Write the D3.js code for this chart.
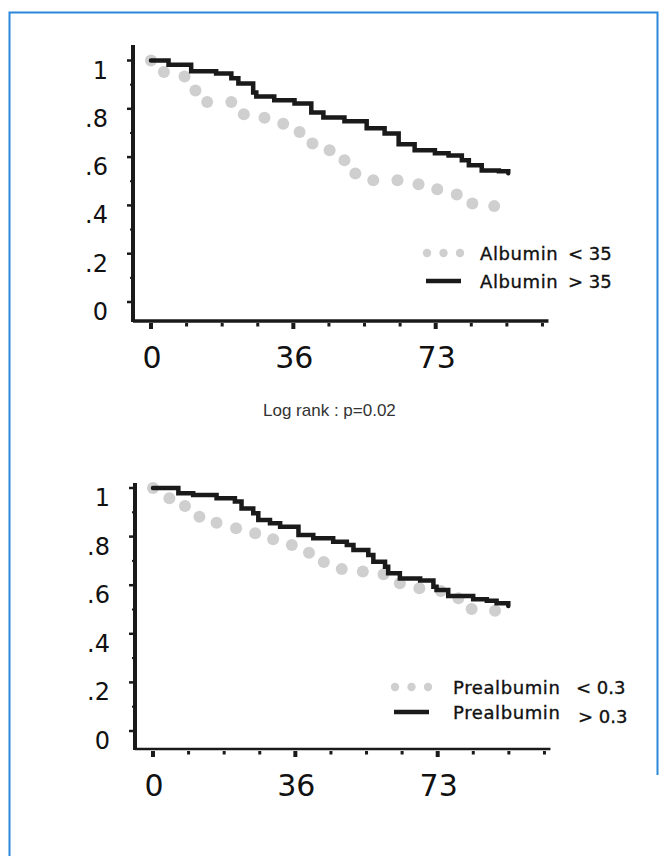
<!DOCTYPE html>
<html>
<head>
<meta charset="utf-8">
<script src="https://cdn.jsdelivr.net/npm/d3@7"></script>
<style>
body { margin: 0; background: #fff; }
svg { display: block; }
</style>
</head>
<body>
<div id="container"></div>
<script>
// survival curves (time, survival)
var albLowT = [0, 3.3, 8.6, 11.4, 14.4, 20.6, 23.8, 29.1, 33.9, 38.1, 41.4, 45.8, 49.6, 52.4, 57, 63.2, 68.6, 73.4, 78.4, 82.4, 88];
var albLowS = [1, 0.952, 0.934, 0.876, 0.828, 0.828, 0.777, 0.763, 0.738, 0.704, 0.656, 0.628, 0.587, 0.532, 0.504, 0.504, 0.488, 0.467, 0.445, 0.408, 0.397];

var albHighT = [0, 4.5, 10.3, 16.7, 20.6, 22.4, 26.2, 27, 31.6, 36.8, 41.1, 44.2, 49.6, 55.3, 59.9, 63.5, 67.6, 72.8, 76.3, 79.7, 81.5, 84.8, 89.2, 91.6];
var albHighS = [1, 0.982, 0.956, 0.946, 0.926, 0.905, 0.868, 0.851, 0.835, 0.822, 0.785, 0.764, 0.748, 0.719, 0.698, 0.653, 0.628, 0.616, 0.607, 0.587, 0.566, 0.545, 0.541, 0.533];

var preLowT = [0, 4.2, 8.2, 11.9, 16.3, 21.3, 26.2, 30.8, 35.6, 40, 43.8, 48.4, 53.8, 59.1, 63.3, 68.3, 73.8, 78.3, 81.7, 87.7];
var preLowS = [1, 0.958, 0.926, 0.882, 0.857, 0.834, 0.814, 0.789, 0.765, 0.734, 0.695, 0.667, 0.656, 0.645, 0.608, 0.587, 0.576, 0.546, 0.502, 0.495];

var preHighT = [0, 6.5, 10.3, 16.3, 21, 22.7, 25.7, 27, 30, 32.6, 37.3, 41.1, 46.2, 49.7, 51.4, 55.2, 56.5, 59.5, 60.3, 63.3, 68.5, 71.9, 72.7, 75.7, 82.1, 85.6, 88.1, 91.1];
var preHighS = [1, 0.978, 0.971, 0.958, 0.944, 0.916, 0.896, 0.868, 0.855, 0.841, 0.807, 0.793, 0.779, 0.765, 0.745, 0.724, 0.697, 0.676, 0.649, 0.628, 0.619, 0.594, 0.580, 0.556, 0.542, 0.536, 0.526, 0.514];

var yTickVals = [0, 0.2, 0.4, 0.6, 0.8, 1];
var yTickLabels = ["0", ".2", ".4", ".6", ".8", "1"];
var yMinorVals = [0.1, 0.3, 0.5, 0.7, 0.9];
var xTickVals = d3.range(12).map(function(i){ return i * 73 / 8; });
var xTickLabels = {0: "0", 4: "36", 8: "73"};

var width = 667, height = 856;
var dark = "#1a1a1a", grey = "#cfcfcf";

var svg = d3.select("#container")
            .append("svg")
            .attr("width", width)
            .attr("height", height);

// blue frame
svg.append("path")
   .attr("d", "M9.5,856 V12.5 H657.5 V775")
   .attr("fill", "none")
   .attr("stroke", "#2b87d9")
   .attr("stroke-width", 2);

function zip(a, b){ return a.map(function(d, i){ return [d, b[i]]; }); }

function panel(p){
  var x = d3.scaleLinear().domain([0, 73]).range([p.x0, p.x0 + 284.7]);
  var y = d3.scaleLinear().domain([0, 1]).range([p.yZero, p.yOne]);
  var g = svg.append("g");

  // axes
  g.append("line")
   .attr("x1", p.axisX).attr("x2", p.axisX)
   .attr("y1", p.axisTop).attr("y2", p.xAxisY + 1)
   .attr("stroke", dark).attr("stroke-width", 4);
  g.append("line")
   .attr("x1", p.axisX).attr("x2", x(xTickVals[11]) + 6)
   .attr("y1", p.xAxisY).attr("y2", p.xAxisY)
   .attr("stroke", dark).attr("stroke-width", p.xw);

  g.selectAll(".ymaj").data(yTickVals).enter().append("line")
   .attr("x1", p.axisX - 6).attr("x2", p.axisX)
   .attr("y1", function(d){ return y(d); }).attr("y2", function(d){ return y(d); })
   .attr("stroke", dark).attr("stroke-width", 2.5);
  g.selectAll(".ymin").data(yMinorVals).enter().append("line")
   .attr("x1", p.axisX - 3).attr("x2", p.axisX)
   .attr("y1", function(d){ return y(d); }).attr("y2", function(d){ return y(d); })
   .attr("stroke", dark).attr("stroke-width", 2);
  g.selectAll(".ylab").data(yTickVals).enter().append("text")
   .attr("x", p.axisX - 25)
   .attr("y", function(d){ return y(d) + 18; })
   .attr("text-anchor", "end")
   .style("font", "24px 'DejaVu Sans'")
   .attr("fill", "#111")
   .text(function(d, i){ return yTickLabels[i]; });

  g.selectAll(".xt").data(xTickVals).enter().append("rect")
   .attr("x", function(d, i){ return x(d) - (i % 4 == 0 ? 2 : 1.5); })
   .attr("y", function(d, i){ return p.xAxisY + 2; })
   .attr("width", function(d, i){ return i % 4 == 0 ? 4 : 3; })
   .attr("height", function(d, i){ return i % 4 == 0 ? 6 : 3.5; })
   .attr("fill", dark);
  g.selectAll(".xlab").data(xTickVals.filter(function(d, i){ return i % 4 == 0; })).enter().append("text")
   .attr("x", function(d){ return x(d) + 1; })
   .attr("y", p.xAxisY + 47)
   .attr("text-anchor", "middle")
   .style("font", "30px 'DejaVu Sans'")
   .attr("fill", "#111")
   .text(function(d, i){ return xTickLabels[i * 4]; });

  // dotted group
  g.selectAll(".dot").data(zip(p.lowT, p.lowS)).enter().append("circle")
   .attr("cx", function(d){ return x(d[0]); })
   .attr("cy", function(d){ return y(d[1]); })
   .attr("r", 6)
   .attr("fill", grey);

  // step curve
  var line = d3.line()
      .x(function(d){ return x(d[0]); })
      .y(function(d){ return y(d[1]); })
      .curve(d3.curveStepAfter);
  g.append("path")
   .datum(zip(p.highT, p.highS))
   .attr("d", line)
   .attr("fill", "none")
   .attr("stroke", dark)
   .attr("stroke-width", 4.5)
   .attr("stroke-linecap", "round");

  // legend
  var lg = g.append("g");
  lg.selectAll("circle").data([0, 1, 2]).enter().append("circle")
    .attr("cx", function(d){ return p.legX + 1 + d * 16.5; })
    .attr("cy", p.legY)
    .attr("r", 4.2)
    .attr("fill", grey);
  lg.append("line")
    .attr("x1", p.legX).attr("x2", p.legX + 35)
    .attr("y1", p.legY + p.legGap).attr("y2", p.legY + p.legGap)
    .attr("stroke", dark).attr("stroke-width", 4.5);
  [0, 1].forEach(function(k){
    lg.append("text")
      .attr("x", p.txtX)
      .attr("y", p.legY + 7 + k * p.legGap)
      .style("font", "18px 'DejaVu Sans'")
      .style("letter-spacing", "0.6px")
      .attr("fill", "#111").attr("stroke", "#111").attr("stroke-width", 0.35)
      .text(p.name);
    lg.append("text")
      .attr("x", p.cmpX + k * p.cmpShift)
      .attr("y", p.legY + 7 + k * (p.legGap + p.cmpDrop))
      .style("font", "18px 'DejaVu Sans'")
      .attr("fill", "#111").attr("stroke", "#111").attr("stroke-width", 0.35)
      .text((k == 0 ? "< " : "> ") + p.cut);
  });
}

panel({axisX: 133, axisTop: 45, xAxisY: 321, xw: 3.5, x0: 151, yOne: 60.5, yZero: 302,
       lowT: albLowT, lowS: albLowS, highT: albHighT, highS: albHighS,
       legX: 426, legY: 253, legGap: 28, txtX: 480, cmpX: 568, cmpShift: 0, cmpDrop: 0,
       name: "Albumin", cut: "35"});

svg.append("text")
   .attr("x", 263).attr("y", 416)
   .style("font", "17px 'Liberation Sans'")
   .attr("fill", "#333")
   .text("Log rank : p=0.02");

panel({axisX: 135, axisTop: 483, xAxisY: 749, xw: 2.5, x0: 153, yOne: 488, yZero: 731,
       lowT: preLowT, lowS: preLowS, highT: preHighT, highS: preHighS,
       legX: 394, legY: 687, legGap: 25, txtX: 453, cmpX: 576, cmpShift: 2, cmpDrop: 4,
       name: "Prealbumin", cut: "0.3"});
</script>
</body>
</html>
